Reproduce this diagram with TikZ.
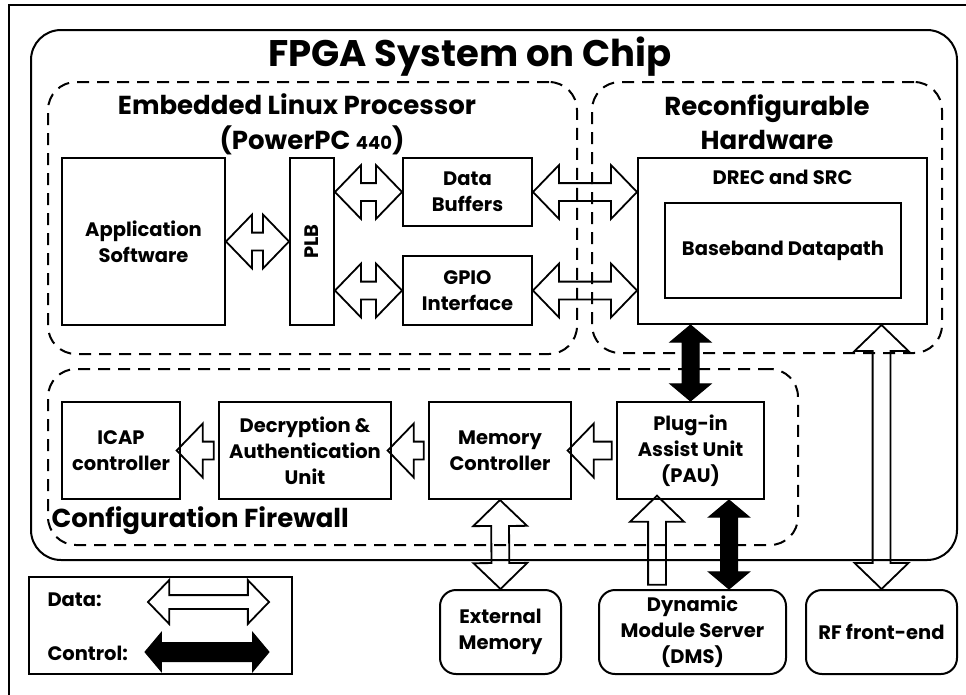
\documentclass[tikz,border=0pt]{standalone}
\usepackage{fontspec}
\setmainfont{Poppins}
\usetikzlibrary{shapes.arrows,calc}

\tikzset{
    block/.style={draw, line width=2pt, align=center, font=\bfseries\fontsize{19.5}{26}\selectfont},
    terminal/.style={block, rounded corners=16pt},
    region/.style={draw, line width=2pt, dash pattern=on 12pt off 8pt, rounded corners=28pt},
    heading/.style={font=\bfseries\fontsize{26}{34}\selectfont, align=center},
    datalink/.style={double arrow, draw, line width=1.8pt, inner xsep=0pt, inner ysep=8pt,
        double arrow head extend=18pt, double arrow tip angle=92},
    dataone/.style={single arrow, draw, line width=1.8pt, inner xsep=0pt, inner ysep=8pt,
        single arrow head extend=18pt, single arrow tip angle=92},
    ctrllink/.style={double arrow, draw, fill=black, line width=1pt, inner xsep=0pt, inner ysep=8pt,
        double arrow head extend=12pt, double arrow tip angle=100},
}

\newcommand{\arrowlink}[3][datalink]{%
    \path let \p1=($(#3)-(#2)$), \n1={veclen(\x1,\y1)}, \n2={atan2(\y1,\x1)} in
        node[#1, minimum height=\n1, rotate=\n2] at ($(#2)!0.5!(#3)$) {};
}

\begin{document}
\begin{tikzpicture}[x=1pt, y=-1pt]
    \useasboundingbox (0,0) rectangle (966,694);
    \draw[line width=2pt] (9,700) |- (975,5);

    \node[draw, line width=2pt, rounded corners=30pt, minimum width=926pt, minimum height=530pt] (fpga) at (494,295) {};
    \node[font=\bfseries\fontsize{37}{42}\selectfont] (fpgatitle) at (470,57) {FPGA System on Chip};

    \node[region, minimum width=529pt, minimum height=272pt] (elp) at (312.5,218) {};
    \node[heading] (elptitle) at (297,104) {Embedded Linux Processor};
    \node[heading] (ppc) at (312,140) {(PowerPC {\fontsize{18}{22}\selectfont 440})};

    \node[region, minimum width=350pt, minimum height=271pt] (rh) at (767,217.5) {};
    \node[heading] (rhtitle) at (767,122) {Reconfigurable\\Hardware};

    \node[region, minimum width=750pt, minimum height=176pt] (fw) at (423,457) {};
    \node[heading, anchor=west] (fwtitle) at (48,521) {Configuration Firewall};

    \node[block, minimum width=163pt, minimum height=167pt] (app) at (143.5,241.5) {Application\\Software};
    \node[block, minimum width=44pt, minimum height=167pt] (plb) at (312,241.5) {};
    \node[rotate=90, font=\bfseries\fontsize{19.5}{26}\selectfont] (plbtext) at (plb.center) {PLB};
    \node[block, minimum width=129pt, minimum height=68pt] (buf) at (467.5,192) {Data\\Buffers};
    \node[block, minimum width=129pt, minimum height=69pt] (gpio) at (467.5,290.5) {GPIO\\Interface};

    \node[block, minimum width=289pt, minimum height=166pt] (drec) at (782.5,241) {};
    \node[font=\bfseries\fontsize{19.5}{26}\selectfont] (dreclabel) at (782.5,177) {DREC and SRC};
    \node[block, minimum width=236pt, minimum height=95pt] (bb) at (783,250.5) {Baseband Datapath};

    \node[block, minimum width=118pt, minimum height=97pt] (icap) at (121,450.5) {ICAP\\controller};
    \node[block, minimum width=172pt, minimum height=97pt] (dec) at (305,450.5) {Decryption \&\\Authentication\\Unit};
    \node[block, minimum width=142pt, minimum height=97pt] (mem) at (500,450.5) {Memory\\Controller};
    \node[block, minimum width=147pt, minimum height=97pt] (pau) at (690.5,450.5) {Plug-in\\Assist Unit\\(PAU)};

    \node[terminal, minimum width=121pt, minimum height=84pt] (extmem) at (500.5,632) {External\\Memory};
    \node[terminal, minimum width=187pt, minimum height=84pt] (dms) at (692.5,632) {Dynamic\\Module Server\\(DMS)};
    \node[terminal, minimum width=151pt, minimum height=84pt] (rf) at (881.5,632) {RF front-end};

    \node[block, minimum width=263pt, minimum height=97pt] (legend) at (160.5,625.5) {};
    \node[anchor=west, font=\bfseries\fontsize{19.5}{26}\selectfont] (datakey) at (44,600) {Data:};
    \node[anchor=west, font=\bfseries\fontsize{19.5}{26}\selectfont] (ctrlkey) at (44,653) {Control:};
    \coordinate (d1) at (148,602);
    \coordinate (d2) at (269,602);
    \coordinate (c1) at (145,652);
    \coordinate (c2) at (269,652);

    \coordinate (dmsup) at ([xshift=-35.5pt]dms.north);
    \coordinate (pauin) at (dmsup |- pau.south);
    \coordinate (dmsctl) at ([xshift=36.5pt]dms.north);
    \coordinate (pauctl) at (dmsctl |- pau.south);

    \arrowlink{app.east}{plb.west}
    \arrowlink{plb.east |- buf.west}{buf.west}
    \arrowlink{plb.east |- gpio.west}{gpio.west}
    \arrowlink{buf.east}{drec.west |- buf.east}
    \arrowlink{gpio.east}{drec.west |- gpio.east}
    \arrowlink[dataone]{pau.west}{mem.east}
    \arrowlink[dataone]{mem.west}{dec.east}
    \arrowlink[dataone]{dec.west}{icap.east}
    \arrowlink{mem.south}{extmem.north}
    \arrowlink[dataone]{dmsup}{pauin}
    \arrowlink{rf.north |- drec.south}{rf.north}
    \arrowlink[ctrllink]{pau.north |- drec.south}{pau.north}
    \arrowlink[ctrllink]{pauctl}{dmsctl}
    \arrowlink[datalink, inner ysep=6pt, double arrow head extend=15pt]{d1}{d2}
    \arrowlink[ctrllink, inner ysep=9pt, double arrow head extend=10pt]{c1}{c2}
\end{tikzpicture}
\end{document}
